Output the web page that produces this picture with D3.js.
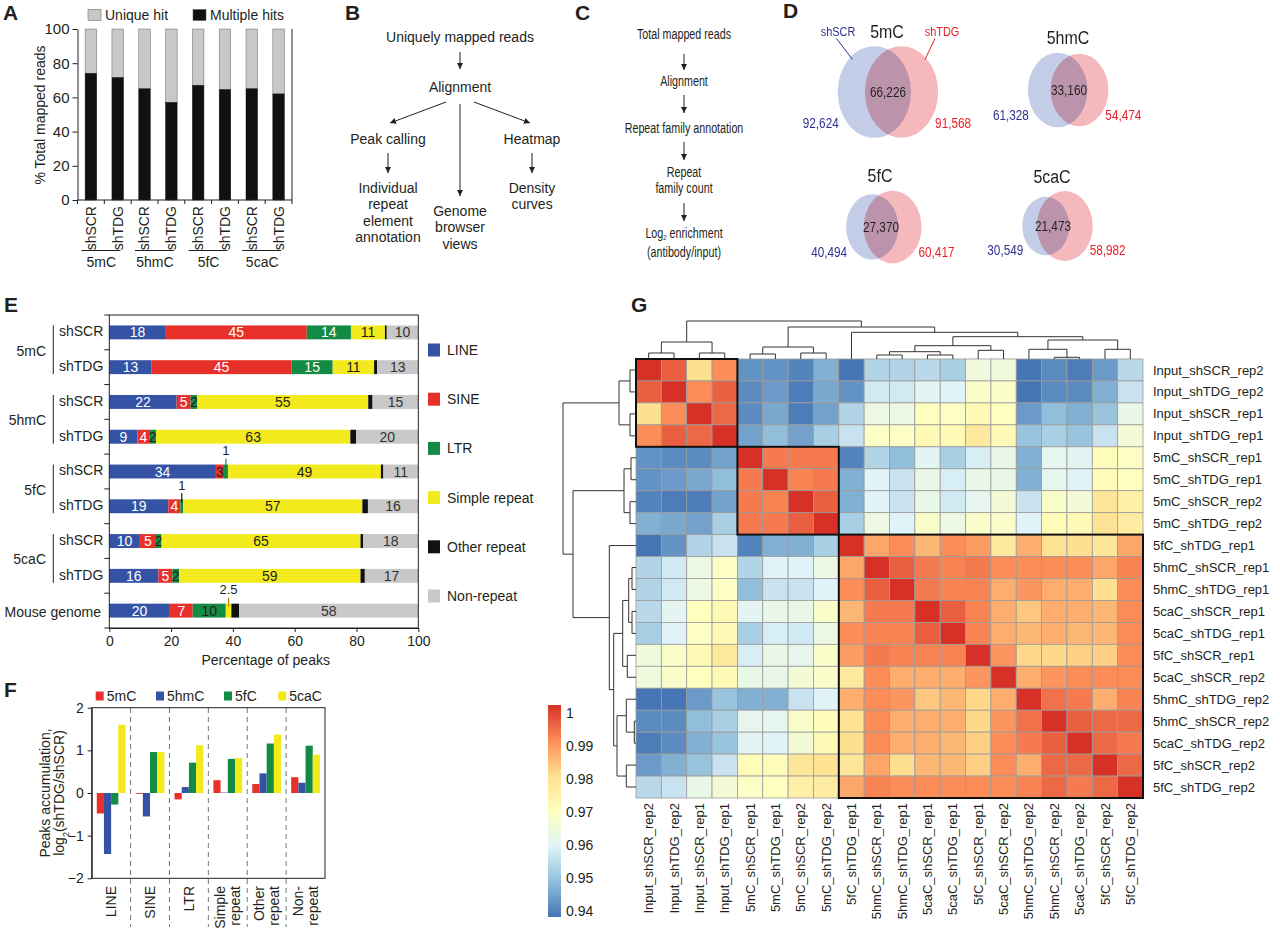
<!DOCTYPE html>
<html>
<head>
<meta charset="utf-8">
<script src="https://cdn.jsdelivr.net/npm/d3@7"></script>
<style>
  body { margin: 0; background: #fff; }
  svg { display: block; }
  text { font-family: "Liberation Sans", Arial, Helvetica, sans-serif; fill: #231f20; }
</style>
</head>
<body>
<svg width="1280" height="929"></svg>
<script>
// ---------- data ----------
// A
const aLegend = ["Unique hit", "Multiple hits"];
const aGroups = ["5mC", "5hmC", "5fC", "5caC"];
const aSamples = ["shSCR", "shTDG", "shSCR", "shTDG", "shSCR", "shTDG", "shSCR", "shTDG"];
const aMultiple = [74, 71.5, 65, 57, 67, 64.5, 65, 62];
const aTicks = [0, 20, 40, 60, 80, 100];

// D
const vennMarks = ["5mC", "5hmC", "5fC", "5caC"];
const vennOverlap = [66226, 33160, 27370, 21473];
const vennSCR = [92624, 61328, 40494, 30549];
const vennTDG = [91568, 54474, 60417, 58982];

// E
const eCats = ["LINE", "SINE", "LTR", "Simple repeat", "Other repeat", "Non-repeat"];
const eColors = ["#3553a5", "#e8302a", "#138b45", "#f2ea1c", "#111111", "#c8c8c8"];
const eGroups = ["5mC", "5hmC", "5fC", "5caC"];
const eRows = ["shSCR", "shTDG", "shSCR", "shTDG", "shSCR", "shTDG", "shSCR", "shTDG", "Mouse genome"];
const eValues = [
  [18.3, 45.6, 14.3, 11.0, 0.6, 10.2],
  [13.7, 45.3, 13.3, 13.4, 1.0, 13.3],
  [21.8, 4.5, 2.2, 55.3, 1.4, 14.8],
  [9.1, 3.8, 2.2, 62.9, 1.9, 20.1],
  [34.5, 2.6, 1.3, 49.5, 0.8, 11.3],
  [19.1, 3.9, 0.9, 58.0, 1.8, 16.3],
  [9.9, 5.2, 1.8, 64.4, 0.9, 17.8],
  [15.9, 4.5, 2.2, 58.7, 1.4, 17.3],
  [19.6, 7.4, 10.7, 1.8, 2.5, 58.0]
];
const eLabels = [
  ["18", "45", "14", "11", "", "10"],
  ["13", "45", "15", "11", "", "13"],
  ["22", "5", "2", "55", "", "15"],
  ["9", "4", "2", "63", "", "20"],
  ["34", "3", "", "49", "", "11"],
  ["19", "4", "", "57", "", "16"],
  ["10", "5", "2", "65", "", "18"],
  ["16", "5", "2", "59", "", "17"],
  ["20", "7", "10", "", "", "58"]
];
const eCallRow = [4, 5, 8];
const eCallCat = [2, 2, 3];
const eCallText = ["1", "1", "2.5"];
const eTicks = [0, 20, 40, 60, 80, 100];

// F
const fCats = ["LINE", "SINE", "LTR", "Simple|repeat", "Other|repeat", "Non-|repeat"];
const fSeries = ["5mC", "5hmC", "5fC", "5caC"];
const fColors = ["#e8302a", "#3553a5", "#138b45", "#f2ea1c"];
const f5mC  = [-0.48, -0.02, -0.15, 0.30, 0.21, 0.37];
const f5hmC = [-1.43, -0.55, 0.14, 0.01, 0.46, 0.24];
const f5fC  = [-0.27, 0.96, 0.71, 0.80, 1.16, 1.11];
const f5caC = [1.60, 0.96, 1.12, 0.82, 1.37, 0.90];
const fTicks = [-2, -1, 0, 1, 2];

// G
const hmLabels = ["Input_shSCR_rep2", "Input_shTDG_rep2", "Input_shSCR_rep1", "Input_shTDG_rep1",
  "5mC_shSCR_rep1", "5mC_shTDG_rep1", "5mC_shSCR_rep2", "5mC_shTDG_rep2",
  "5fC_shTDG_rep1", "5hmC_shSCR_rep1", "5hmC_shTDG_rep1", "5caC_shSCR_rep1", "5caC_shTDG_rep1",
  "5fC_shSCR_rep1", "5caC_shSCR_rep2", "5hmC_shTDG_rep2", "5hmC_shSCR_rep2", "5caC_shTDG_rep2",
  "5fC_shSCR_rep2", "5fC_shTDG_rep2"];
const corrLower = [
  [1],
  [0.995, 1],
  [0.980, 0.990, 1],
  [0.990, 0.995, 0.994, 1],
  [0.944, 0.943, 0.943, 0.946, 1],
  [0.944, 0.945, 0.947, 0.950, 0.992, 1],
  [0.942, 0.941, 0.941, 0.946, 0.992, 0.991, 1],
  [0.948, 0.947, 0.946, 0.953, 0.992, 0.992, 0.995, 1],
  [0.940, 0.944, 0.954, 0.957, 0.942, 0.948, 0.948, 0.953, 1],
  [0.954, 0.958, 0.964, 0.969, 0.954, 0.960, 0.960, 0.964, 0.987, 1],
  [0.954, 0.958, 0.964, 0.969, 0.950, 0.957, 0.957, 0.960, 0.990, 0.995, 1],
  [0.955, 0.961, 0.970, 0.972, 0.961, 0.963, 0.963, 0.968, 0.985, 0.992, 0.992, 1],
  [0.953, 0.960, 0.969, 0.972, 0.953, 0.959, 0.958, 0.964, 0.990, 0.991, 0.991, 0.995, 1],
  [0.965, 0.968, 0.972, 0.977, 0.959, 0.963, 0.962, 0.968, 0.988, 0.992, 0.991, 0.991, 0.991, 1],
  [0.965, 0.968, 0.970, 0.972, 0.963, 0.963, 0.966, 0.968, 0.977, 0.990, 0.986, 0.986, 0.986, 0.989, 1],
  [0.940, 0.940, 0.945, 0.951, 0.948, 0.948, 0.957, 0.960, 0.986, 0.990, 0.989, 0.983, 0.985, 0.981, 0.986, 1],
  [0.943, 0.943, 0.950, 0.953, 0.962, 0.962, 0.968, 0.971, 0.979, 0.990, 0.986, 0.986, 0.986, 0.981, 0.989, 0.993, 1],
  [0.941, 0.943, 0.948, 0.951, 0.961, 0.960, 0.966, 0.972, 0.980, 0.990, 0.986, 0.986, 0.985, 0.982, 0.990, 0.992, 0.995, 1],
  [0.945, 0.948, 0.951, 0.957, 0.971, 0.971, 0.978, 0.979, 0.978, 0.987, 0.980, 0.985, 0.985, 0.982, 0.990, 0.986, 0.994, 0.994, 1],
  [0.955, 0.957, 0.963, 0.966, 0.969, 0.970, 0.975, 0.976, 0.987, 0.991, 0.990, 0.990, 0.990, 0.990, 0.990, 0.991, 0.994, 0.992, 0.994, 1]
];
// hclust style merges: negative = leaf (1-based), positive = earlier merge (1-based)
const treeMerge = [[-1, -2], [-3, -4], [1, 2], [-5, -6], [-7, -8], [4, 5], [-10, -11], [-12, -13], [7, 8],
  [-14, -15], [9, 10], [-17, -18], [-16, 12], [-19, -20], [13, 14], [11, 15], [-9, 16], [6, 17], [3, 18]];
const treeHeight = [6, 6, 17, 5, 6, 12, 4, 4, 7.3, 8.7, 13.3, 1.7, 9.7, 9.7, 19, 22.3, 26.7, 63, 73];
const hmClusterSizes = [4, 4, 12];
const legendBreaks = [0.94, 0.95, 0.96, 0.97, 0.98, 0.99, 1];
const legendLabels = ["0.94", "0.95", "0.96", "0.97", "0.98", "0.99", "1"];
const legendColors = ["#4575b4", "#91bfdb", "#e0f3f8", "#ffffbf", "#fee090", "#fc8d59", "#d73027"];

// ---------- drawing ----------
const svg = d3.select("svg");
const ink = "#231f20";

svg.append("defs").append("marker")
  .attr("id", "arr").attr("viewBox", "0 0 6 6").attr("refX", 6).attr("refY", 3)
  .attr("markerWidth", 6).attr("markerHeight", 6).attr("markerUnits", "userSpaceOnUse")
  .attr("orient", "auto")
  .append("path").attr("d", "M0,0L6,3L0,6Z").attr("fill", ink);

function txt(g, x, y, s, size, anchor, sx) {
  return g.append("text")
    .attr("transform", `translate(${x},${y}) scale(${sx || 1},1)`)
    .attr("text-anchor", anchor || "middle").attr("dy", "0.35em")
    .style("font-size", size + "px").text(s);
}
function arrow(g, x1, y1, x2, y2) {
  g.append("line").attr("x1", x1).attr("y1", y1).attr("x2", x2).attr("y2", y2)
    .attr("stroke", ink).attr("stroke-width", 1).attr("marker-end", "url(#arr)");
}

// panel letters
[["A", 3, 20], ["B", 345, 20], ["C", 575, 20], ["D", 783, 18], ["E", 4, 312], ["F", 4, 697], ["G", 631, 312]]
  .forEach(([l, x, y]) => svg.append("text").attr("x", x).attr("y", y)
    .style("font-size", "21px").style("font-weight", "bold").text(l));

// ===== A =====
const gA = svg.append("g");
const xA = d3.scaleBand().domain(d3.range(aSamples.length)).range([77.5, 292]).paddingInner(0.57).paddingOuter(0.285);
const yA = d3.scaleLinear().domain([0, 100]).range([200, 29]);
gA.selectAll("rect.u").data(aMultiple).join("rect").attr("class", "u")
  .attr("x", (d, i) => xA(i)).attr("y", yA(100)).attr("width", xA.bandwidth())
  .attr("height", d => yA(d) - yA(100)).attr("fill", "#c8c8c8").attr("stroke", "#666").attr("stroke-width", 0.5);
gA.selectAll("rect.m").data(aMultiple).join("rect").attr("class", "m")
  .attr("x", (d, i) => xA(i)).attr("y", d => yA(d)).attr("width", xA.bandwidth())
  .attr("height", d => yA(0) - yA(d)).attr("fill", "#111").attr("stroke", "#111").attr("stroke-width", 0.5);
const axA = gA.append("g").attr("transform", "translate(77.5,0)")
  .call(d3.axisLeft(yA).tickValues(aTicks).tickSize(5).tickSizeOuter(0).tickPadding(3));
axA.selectAll("text").style("font-size", "15px").style("font-family", '"Liberation Sans", Arial, sans-serif').attr("fill", ink);
axA.selectAll("line,path").attr("stroke", ink);
gA.append("line").attr("x1", 77.5).attr("x2", 292).attr("y1", 200).attr("y2", 200).attr("stroke", ink);
gA.append("line").attr("x1", 292).attr("x2", 292).attr("y1", 29).attr("y2", 200).attr("stroke", ink);
gA.selectAll("line.bt").data(d3.range(aSamples.length + 1)).join("line").attr("class", "bt")
  .attr("x1", i => 77.5 + i * xA.step()).attr("x2", i => 77.5 + i * xA.step())
  .attr("y1", 200).attr("y2", 204).attr("stroke", ink);
aSamples.forEach((s, i) => {
  gA.append("text").attr("transform", `translate(${xA(i) + xA.bandwidth() / 2},206) rotate(-90)`)
    .attr("text-anchor", "end").attr("dy", "0.35em").style("font-size", "14px").text(s);
});
aGroups.forEach((g, k) => {
  const c = (xA(2 * k) + xA(2 * k + 1) + xA.bandwidth()) / 2 - 3;
  gA.append("line").attr("x1", c - 20).attr("x2", c + 19).attr("y1", 250.5).attr("y2", 250.5).attr("stroke", ink);
  txt(gA, c, 262, g, 14);
});
aLegend.forEach((l, i) => {
  const x0 = [88, 193][i];
  gA.append("rect").attr("x", x0).attr("y", 9.5).attr("width", 13).attr("height", 11)
    .attr("fill", i ? "#111" : "#c8c8c8").attr("stroke", "#555").attr("stroke-width", 0.5);
  txt(gA, x0 + 17, 15, l, 14, "start");
});
gA.append("text").attr("transform", "translate(45,115) rotate(-90)").attr("text-anchor", "middle")
  .style("font-size", "14px").text("% Total mapped reads");

// ===== B =====
const gB = svg.append("g");
txt(gB, 460, 37, "Uniquely mapped reads", 14);
arrow(gB, 460, 52, 460, 69);
txt(gB, 460, 87, "Alignment", 14);
arrow(gB, 446, 102, 390, 123);
arrow(gB, 460, 104, 460, 196);
arrow(gB, 474, 102, 530, 123);
txt(gB, 388, 139, "Peak calling", 14);
arrow(gB, 388, 153, 388, 173);
["Individual", "repeat", "element", "annotation"].forEach((s, i) => txt(gB, 388, 188 + i * 16.4, s, 14));
["Genome", "browser", "views"].forEach((s, i) => txt(gB, 460, 211 + i * 16.4, s, 14));
txt(gB, 532, 139, "Heatmap", 14);
arrow(gB, 532, 153, 532, 173);
["Density", "curves"].forEach((s, i) => txt(gB, 532, 188 + i * 16.4, s, 14));

// ===== C =====
const gC = svg.append("g");
const sxC = 0.74;
const fsC = 14.5;
txt(gC, 684, 34, "Total mapped reads", fsC, "middle", sxC);
arrow(gC, 684, 54, 684, 70);
txt(gC, 684, 81, "Alignment", fsC, "middle", sxC);
arrow(gC, 684, 95, 684, 113);
txt(gC, 684, 128, "Repeat family annotation", fsC, "middle", sxC);
arrow(gC, 684, 142, 684, 160);
txt(gC, 684, 172, "Repeat", fsC, "middle", sxC);
txt(gC, 684, 188, "family count", fsC, "middle", sxC);
arrow(gC, 684, 203, 684, 221);
const logT = txt(gC, 684, 233, "Log", fsC, "middle", sxC);
logT.append("tspan").attr("baseline-shift", "-2").style("font-size", "8px").text("2");
logT.append("tspan").attr("baseline-shift", "0").text(" enrichment");
txt(gC, 684, 252, "(antibody/input)", fsC, "middle", sxC);

// ===== D =====
const gD = svg.append("g").style("isolation", "isolate");
const fmt = d3.format(",");
const rVenn = d3.scalePow().exponent(0.4).domain([0, 160000]).range([0, 46]);
const vennAnchor = [[888, 92], [1069, 90], [881, 227], [1053, 226]];
const sxD = 0.84;
vennMarks.forEach((m, i) => {
  const [ax, ay] = vennAnchor[i];
  const ryB = rVenn(vennSCR[i] + vennOverlap[i]), ryR = rVenn(vennTDG[i] + vennOverlap[i]);
  const rxB = ryB * 0.8, rxR = ryR * 0.8;
  const w = 0.63 * (rxB + rxR);
  const cxB = ax + w / 2 - rxB, cxR = ax - w / 2 + rxR;
  gD.append("ellipse").attr("cx", cxB).attr("cy", ay).attr("rx", rxB).attr("ry", ryB).attr("fill", "#c3cde8");
  gD.append("ellipse").attr("cx", cxR).attr("cy", ay).attr("rx", rxR).attr("ry", ryR).attr("fill", "#f5b8bc")
    .style("mix-blend-mode", "multiply");
  const ryM = Math.max(ryB, ryR);
  txt(gD, ax, ay, fmt(vennOverlap[i]), 14, "middle", sxD);
  txt(gD, cxB - rxB + 1, ay + 0.68 * ryM, fmt(vennSCR[i]), 14, "end", sxD).style("fill", "#2e3192");
  txt(gD, cxR + rxR - 3, ay + 0.68 * ryM, fmt(vennTDG[i]), 14, "start", sxD).style("fill", "#ed1c24");
  txt(gD, ax - 1, ay - ryM - 15, m, 19, "middle", sxD);
  if (i === 0) {
    txt(gD, 838, 31, "shSCR", 13, "middle", sxD).style("fill", "#2e3192");
    txt(gD, 942, 31, "shTDG", 13, "middle", sxD).style("fill", "#ed1c24");
    gD.append("line").attr("x1", 836.5).attr("y1", 38.5).attr("x2", 852.5).attr("y2", 59.5).attr("stroke", "#2e3192");
    gD.append("line").attr("x1", 935).attr("y1", 38.5).attr("x2", 925).attr("y2", 59.5).attr("stroke", "#ed1c24");
  }
});

// ===== E =====
const gE = svg.append("g");
const xE = d3.scaleLinear().domain([0, 100]).range([109.3, 418.3]);
const yE = d3.scaleBand().domain(d3.range(eRows.length)).range([315, 628]).paddingInner(0.6).paddingOuter(0.3);
const bhE = yE.bandwidth();
eValues.forEach((row, r) => {
  let acc = 0;
  row.forEach((v, c) => {
    const x0 = xE(acc), x1 = xE(acc + v);
    gE.append("rect").attr("x", x0).attr("y", yE(r)).attr("width", x1 - x0).attr("height", bhE).attr("fill", eColors[c]);
    const lab = eLabels[r][c];
    if (lab) {
      const dark = c >= 3 || lab === "3" || lab === "2" || (c === 2 && r === 8);
      gE.append("text").attr("x", (x0 + x1) / 2).attr("y", yE(r) + bhE / 2).attr("dy", "0.36em")
        .attr("text-anchor", "middle").style("font-size", "14px")
        .style("fill", dark ? (c === 5 ? "#333" : "#231f20") : "#fff").text(lab);
    }
    acc += v;
  });
});
eCallRow.forEach((r, k) => {
  const c = eCallCat[k];
  const acc = d3.sum(eValues[r].slice(0, c));
  const xc = xE(acc + eValues[r][c] / 2);
  gE.append("line").attr("x1", xc).attr("x2", xc).attr("y1", yE(r) - 6).attr("y2", yE(r) + 3)
    .attr("stroke", k === 2 ? "#b8860b" : (k === 0 ? "#138b45" : "#111")).attr("stroke-width", 1.2);
  gE.append("text").attr("x", xc).attr("y", yE(r) - 11).attr("dy", "0.1em").attr("text-anchor", "middle")
    .style("font-size", "13px").text(eCallText[k]);
});
gE.append("rect").attr("x", xE(0)).attr("y", 315).attr("width", xE(100) - xE(0)).attr("height", 313)
  .attr("fill", "none").attr("stroke", ink);
gE.selectAll("line.yt").data(d3.range(eRows.length + 1)).join("line").attr("class", "yt")
  .attr("x1", xE(0) - 5).attr("x2", xE(0)).attr("y1", i => 315 + i * yE.step()).attr("y2", i => 315 + i * yE.step())
  .attr("stroke", ink);
const axE = gE.append("g").attr("transform", "translate(0,628)")
  .call(d3.axisBottom(xE).tickValues(eTicks).tickSize(4).tickSizeOuter(0).tickPadding(4));
axE.selectAll("text").style("font-size", "14px").style("font-family", '"Liberation Sans", Arial, sans-serif').attr("fill", ink);
axE.selectAll("line,path").attr("stroke", ink);
txt(gE, 265.7, 660.5, "Percentage of peaks", 14);
eRows.forEach((s, r) => {
  const yc = yE(r) + bhE / 2;
  if (r < 8) txt(gE, 59, yc - 1, s, 14, "start");
  else txt(gE, 101, yc + 1, s, 14, "end");
});
eGroups.forEach((g, k) => {
  const yt = yE(2 * k), yb = yE(2 * k + 1) + bhE;
  gE.append("line").attr("x1", 53.3).attr("x2", 53.3).attr("y1", yt).attr("y2", yb).attr("stroke", ink);
  txt(gE, 46, (yt + yb) / 2 + 1, g, 14, "end");
});
eCats.forEach((c, i) => {
  const yc = 350 + i * 49.2;
  gE.append("rect").attr("x", 428).attr("y", yc - 6.5).attr("width", 12).attr("height", 13).attr("fill", eColors[i]);
  txt(gE, 447, yc, c, 14, "start");
});

// ===== F =====
const gF = svg.append("g");
const fData = [f5mC, f5hmC, f5fC, f5caC];
const xF = d3.scaleBand().domain(d3.range(fCats.length)).range([91.7, 325]).paddingInner(0.26).paddingOuter(0.13);
const xFs = d3.scaleBand().domain(d3.range(fSeries.length)).range([0, xF.bandwidth()]);
const yF = d3.scaleLinear().domain([-2, 2]).range([878.3, 707.7]);
fData.forEach((vals, s) => {
  gF.selectAll(null).data(vals).join("rect")
    .attr("x", (d, i) => xF(i) + xFs(s)).attr("width", xFs.bandwidth())
    .attr("y", d => yF(Math.max(0, d))).attr("height", d => Math.abs(yF(d) - yF(0)))
    .attr("fill", fColors[s]);
});
d3.range(1, fCats.length).forEach(i => {
  const xd = 91.7 + i * xF.step();
  gF.append("line").attr("x1", xd).attr("x2", xd).attr("y1", 708).attr("y2", 927)
    .attr("stroke", "#777").attr("stroke-dasharray", "5,4").attr("stroke-width", 1);
});
gF.append("rect").attr("x", 91.7).attr("y", 707.7).attr("width", 325 - 91.7).attr("height", 878.3 - 707.7)
  .attr("fill", "none").attr("stroke", ink);
const axF = gF.append("g").attr("transform", "translate(91.7,0)")
  .call(d3.axisLeft(yF).tickValues(fTicks).tickSize(4).tickSizeOuter(0).tickPadding(4).tickFormat(d3.format("d")));
axF.selectAll("text").style("font-size", "14px").style("font-family", '"Liberation Sans", Arial, sans-serif').attr("fill", ink);
axF.selectAll("line,path").attr("stroke", ink);
fCats.forEach((c, i) => {
  const parts = c.split("|");
  const xc = xF(i) + xF.bandwidth() / 2;
  parts.forEach((p, j) => {
    const off = (j - (parts.length - 1) / 2) * 14.5;
    gF.append("text").attr("transform", `translate(${xc + off},886) rotate(-90)`)
      .attr("text-anchor", "end").attr("dy", "0.35em").style("font-size", "14px").text(p);
  });
});
const fLegX = [95.7, 156, 224, 278.3];
fSeries.forEach((s, i) => {
  gF.append("rect").attr("x", fLegX[i]).attr("y", 691.5).attr("width", 8).attr("height", 9).attr("fill", fColors[i]);
  txt(gF, fLegX[i] + 11, 696, s, 14, "start");
});
gF.append("text").attr("transform", "translate(50,793) rotate(-90)").attr("text-anchor", "middle")
  .style("font-size", "14px").text("Peaks accumulation,");
const fy2 = gF.append("text").attr("transform", "translate(64,793) rotate(-90)").attr("text-anchor", "middle")
  .style("font-size", "14px");
fy2.append("tspan").text("log");
fy2.append("tspan").attr("baseline-shift", "sub").style("font-size", "9px").text("2");
fy2.append("tspan").text("(shTDG/shSCR)");

// ===== G =====
const gG = svg.append("g");
const n = hmLabels.length;
const corr = d3.range(n).map(i => d3.range(n).map(j => i >= j ? corrLower[i][j] : corrLower[j][i]));
const xH = d3.scaleBand().domain(d3.range(n)).range([636, 1143]);
const yH = d3.scaleBand().domain(d3.range(n)).range([359, 798]);
const colorH = d3.scaleLinear().domain(legendBreaks).range(legendColors).clamp(true);
const cells = [];
corr.forEach((row, i) => row.forEach((v, j) => cells.push({ i, j, v })));
gG.selectAll("rect.cell").data(cells).join("rect").attr("class", "cell")
  .attr("x", d => xH(d.j)).attr("y", d => yH(d.i)).attr("width", xH.bandwidth()).attr("height", yH.bandwidth())
  .attr("fill", d => colorH(d.v)).attr("stroke", "#9b9b9b").attr("stroke-width", 0.8);
let start = 0;
hmClusterSizes.forEach(sz => {
  gG.append("rect").attr("x", xH(start)).attr("y", yH(start))
    .attr("width", xH.step() * sz).attr("height", yH.step() * sz)
    .attr("fill", "none").attr("stroke", "#111").attr("stroke-width", 2);
  start += sz;
});
hmLabels.forEach((l, i) => {
  txt(gG, 1153, yH(i) + yH.bandwidth() / 2, l, 13, "start");
  gG.append("text").attr("transform", `translate(${xH(i) + xH.bandwidth() / 2},803) rotate(-90)`)
    .attr("text-anchor", "end").attr("dy", "0.35em").style("font-size", "13px").text(l);
});
// dendrograms
function treeLayout(leafPos) {
  const nodes = [];
  treeMerge.forEach((m, i) => {
    const kids = m.map(k => k < 0 ? { p: leafPos(-k - 1), h: 0 } : { p: nodes[k - 1].p, h: nodes[k - 1].h });
    nodes.push({ p: (kids[0].p + kids[1].p) / 2, h: treeHeight[i], kids });
  });
  return nodes;
}
// column tree is drawn with its upper levels squeezed
const topY = d3.scaleLinear().domain([0, 26.7, 63, 73]).range([359, 332.3, 327, 321]);
const leftX = d3.scaleLinear().domain([0, 73]).range([636, 563]);
treeLayout(i => xH(i) + xH.bandwidth() / 2).forEach(nd => {
  const [a, b] = nd.kids;
  gG.append("path").attr("d", `M${a.p},${topY(a.h)}V${topY(nd.h)}H${b.p}V${topY(b.h)}`)
    .attr("fill", "none").attr("stroke", "#333").attr("stroke-width", 1);
});
treeLayout(i => yH(i) + yH.bandwidth() / 2).forEach(nd => {
  const [a, b] = nd.kids;
  gG.append("path").attr("d", `M${leftX(a.h)},${a.p}H${leftX(nd.h)}V${b.p}H${leftX(b.h)}`)
    .attr("fill", "none").attr("stroke", "#333").attr("stroke-width", 1);
});
// colour key
const yL = d3.scaleLinear().domain([0.94, 1]).range([911, 713]);
const grad = svg.select("defs").append("linearGradient").attr("id", "hmgrad")
  .attr("x1", 0).attr("y1", 1).attr("x2", 0).attr("y2", 0);
legendBreaks.forEach((b, i) => grad.append("stop").attr("offset", (b - 0.94) / 0.06).attr("stop-color", legendColors[i]));
gG.append("rect").attr("x", 548).attr("y", 705).attr("width", 13).attr("height", 212).attr("fill", "url(#hmgrad)");
legendBreaks.forEach((b, i) => txt(gG, 566, yL(b), legendLabels[i], 14, "start"));
</script>
</body>
</html>
